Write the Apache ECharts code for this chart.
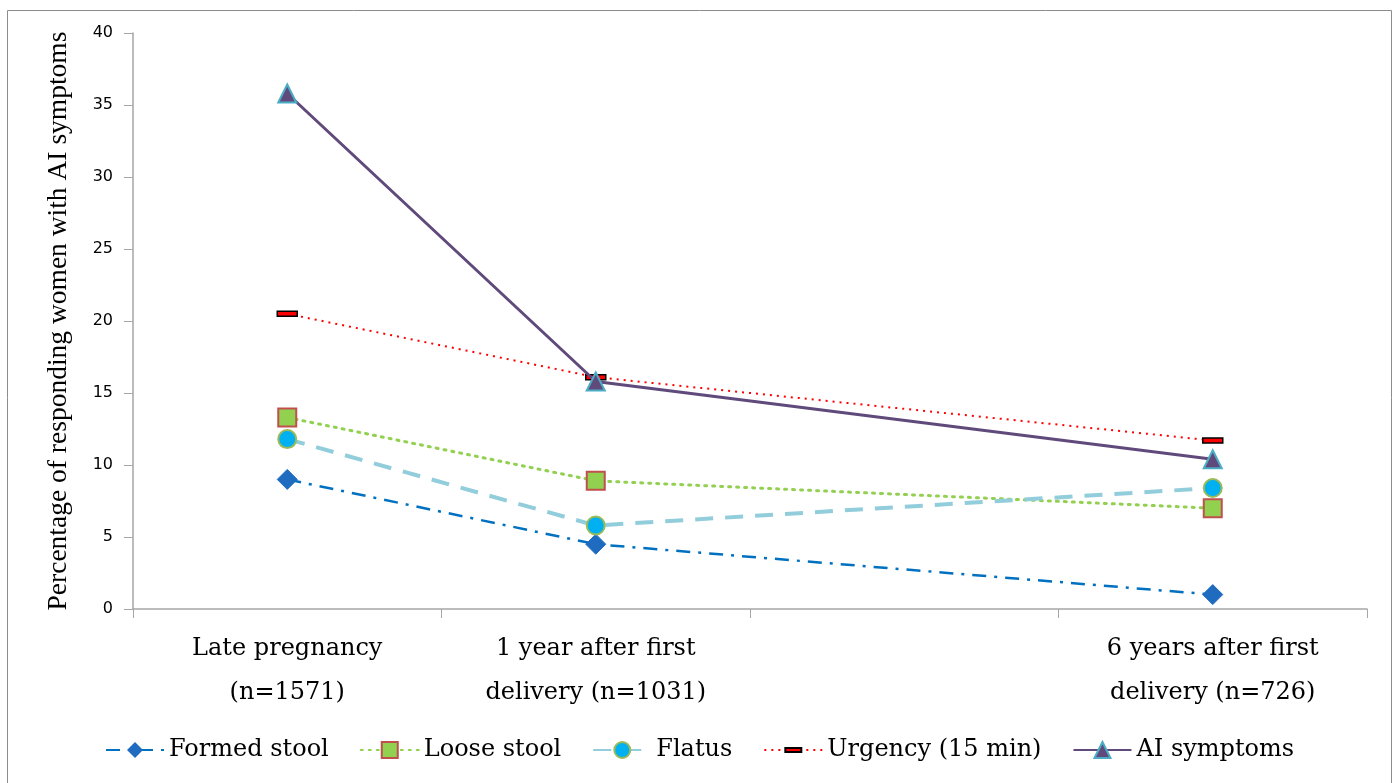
<!DOCTYPE html>
<html>
<head>
<meta charset="utf-8">
<script src="https://cdn.jsdelivr.net/npm/echarts@6/dist/echarts.min.js"></script>
<style>
  html, body { margin: 0; padding: 0; background: #fff; }
  #chart { width: 1393px; height: 783px; }
</style>
</head>
<body>
<div id="chart"></div>
<script>
// categories (third slot is empty in the original)
const categories = ['Late pregnancy\n(n=1571)', '1 year after first\ndelivery (n=1031)', '', '6 years after first\ndelivery (n=726)'];

const formedStool = [9.0, 4.5, null, 1.0];
const looseStool  = [13.3, 8.9, null, 7.0];
const flatus      = [11.8, 5.8, null, 8.4];
const urgency     = [20.5, 16.1, null, 11.7];
const aiSymptoms  = [35.8, 15.8, null, 10.4];

const serif = '"Liberation Serif", serif';
const wideSerif = '"DejaVu Serif", serif';

// flat bar marker, padded to a square box so it keeps its shape
const barSymbol = 'path://M0,0 M20,20 M0,7.5 L20,7.5 L20,12.5 L0,12.5 Z';

const chart = echarts.init(document.getElementById('chart'));

chart.setOption({
  animation: false,
  graphic: [{
    type: 'rect',
    shape: { x: 7.5, y: 10.5, width: 1384, height: 780 },
    style: { fill: 'none', stroke: '#8c8c8c', lineWidth: 1 },
    z: -1
  }],
  grid: { left: 133, right: 26, top: 33, bottom: 174 },
  legend: {
    bottom: 16,
    left: 100,
    itemWidth: 58,
    itemHeight: 20,
    itemGap: 31,
    textStyle: { fontFamily: wideSerif, fontSize: 24, color: '#000' },
    data: ['Formed stool', 'Loose stool', 'Flatus', 'Urgency (15 min)', 'AI symptoms']
  },
  xAxis: {
    type: 'category',
    data: categories,
    boundaryGap: true,
    axisLine: { lineStyle: { color: '#a6a6a6', width: 1.5 } },
    axisTick: { show: true, length: 9, lineStyle: { color: '#a6a6a6' } },
    axisLabel: {
      interval: 0,
      margin: 18,
      fontFamily: wideSerif,
      fontSize: 24,
      lineHeight: 44,
      color: '#000'
    }
  },
  yAxis: {
    type: 'value',
    min: 0,
    max: 40,
    interval: 5,
    name: 'Percentage of responding women with AI symptoms',
    nameLocation: 'middle',
    nameGap: 60,
    nameTextStyle: { fontFamily: serif, fontSize: 27.5, color: '#000' },
    axisLine: { show: true, lineStyle: { color: '#a6a6a6', width: 1.5 } },
    axisTick: { show: true, length: 9, lineStyle: { color: '#a6a6a6' } },
    splitLine: { show: false },
    axisLabel: { fontFamily: '"DejaVu Sans", sans-serif', fontSize: 16, color: '#000', margin: 20 }
  },
  series: [
    {
      name: 'Formed stool',
      type: 'line',
      data: formedStool,
      connectNulls: true,
      symbol: 'diamond',
      symbolSize: [20, 20],
      itemStyle: { color: '#1f6bbf', borderColor: '#1f6bbf' },
      lineStyle: { color: '#0070c0', width: 2.5, type: [14, 8, 3, 8] },
      z: 2
    },
    {
      name: 'Loose stool',
      type: 'line',
      data: looseStool,
      connectNulls: true,
      symbol: 'rect',
      symbolSize: 18,
      itemStyle: { color: '#92d050', borderColor: '#c0504d', borderWidth: 2 },
      lineStyle: { color: '#92d050', width: 3, type: [2, 6], cap: 'round' },
      z: 3
    },
    {
      name: 'Flatus',
      type: 'line',
      data: flatus,
      connectNulls: true,
      symbol: 'circle',
      symbolSize: 18,
      itemStyle: { color: '#00b0f0', borderColor: '#9bbb59', borderWidth: 2 },
      lineStyle: { color: '#92cddc', width: 4, type: [18, 12] },
      z: 4
    },
    {
      name: 'Urgency (15 min)',
      type: 'line',
      data: urgency,
      connectNulls: true,
      symbol: barSymbol,
      symbolSize: 20,
      itemStyle: { color: '#ff0000', borderColor: '#000', borderWidth: 1.5 },
      lineStyle: { color: '#ff0000', width: 2, type: [2, 5] },
      z: 5
    },
    {
      name: 'AI symptoms',
      type: 'line',
      data: aiSymptoms,
      connectNulls: true,
      symbol: 'triangle',
      symbolSize: 18,
      itemStyle: { color: '#604a7b', borderColor: '#4bacc6', borderWidth: 2 },
      lineStyle: { color: '#604a7b', width: 3, type: 'solid' },
      z: 6
    }
  ]
});
</script>
</body>
</html>
